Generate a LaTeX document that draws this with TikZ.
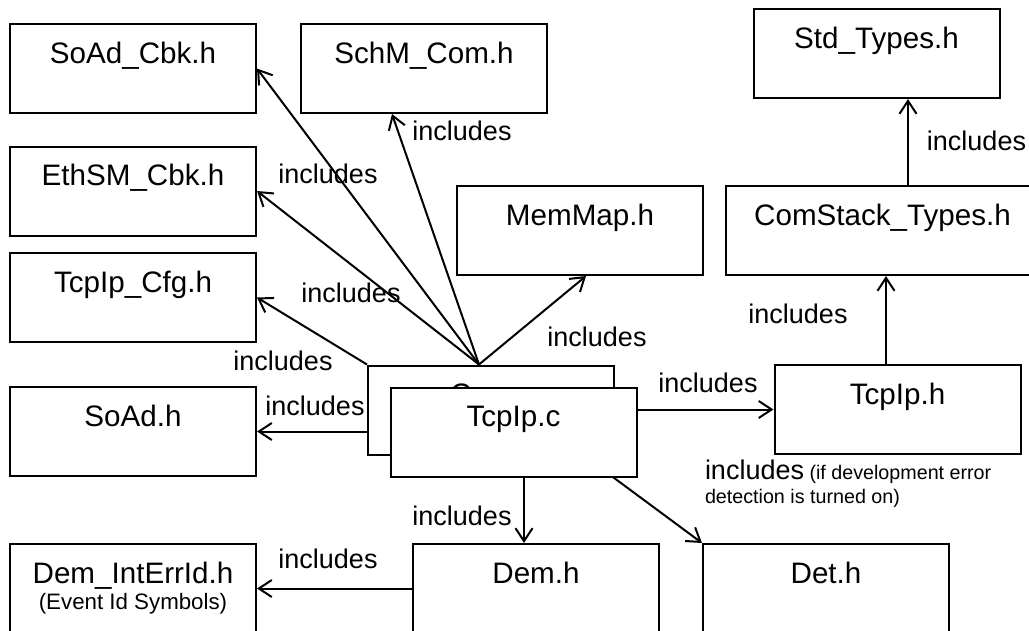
\documentclass[tikz,border=0pt]{standalone}
\usepackage{fontspec}
\setmainfont{Liberation Sans}
\usetikzlibrary{arrows.meta}

\begin{document}
\begin{tikzpicture}[-,>={Straight Barb[length=13pt,width=17pt]},x=1pt,y=-1pt,line width=2pt,
  file node/.style={draw,rectangle,inner sep=0pt,minimum width=246pt,minimum height=89pt,text height=39pt,text depth=50pt,font=\fontsize{29.6}{34}\selectfont},
  inc node/.style={font=\fontsize{27}{32}\selectfont}]
            \useasboundingbox (0,0) rectangle (1029,630);

            \node[file node] (soadcbk) at (133,68.5) {SoAd\_Cbk.h};
            \node[file node] (schm) at (424,68.5) {SchM\_Com.h};
            \node[file node] (ethsm) at (133,191) {EthSM\_Cbk.h};
            \node[file node] (cfg) at (133,297.5) {TcpIp\_Cfg.h};
            \node[file node] (soad) at (133,431.5) {SoAd.h};
            \node[file node] (memmap) at (580,230.5) {MemMap.h};
            \node[file node] (std) at (876.5,53.5) {Std\_Types.h};
            \node[file node, minimum width=313pt] (comstack) at (882.5,230.5) {ComStack\_Types.h};
            \node[file node] (tcpiph) at (897.5,409.5) {TcpIp.h};

            % stacked source files
            \node[file node] (back) at (491,410) {\makebox[82pt][l]{C}};
            \node[file node, fill=white] (tcpipc) at (513.5,432) {TcpIp.c};

            \node[file node, align=center, text height=65pt, text depth=24pt] (demint) at (133,588.5)
                {Dem\_IntErrId.h\\[-8pt]{\fontsize{22.3}{26}\selectfont (Event Id Symbols)}};
            \node[file node] (dem) at (536,588.5) {Dem.h};
            \node[file node] (det) at (826,588.5) {Det.h};

            \coordinate (fan) at ([xshift=-12pt]back.north);

            \path[->]
                (fan) edge (soadcbk.east)
                (fan) edge ([xshift=-32pt]schm.south)
                (fan) edge (ethsm.east)
                (back.north west) edge (cfg.east)
                (fan) edge ([xshift=6pt]memmap.south)
                (back.west |- soad.east) edge (soad.east)
                (tcpipc.east |- tcpiph.west) edge (tcpiph.west)
                ([xshift=-11.5pt]tcpiph.north) edge ([xshift=-11.5pt]tcpiph.north |- comstack.south)
                ([xshift=25.5pt]comstack.north) edge ([xshift=25.5pt]comstack.north |- std.south)
                ([xshift=10.5pt]tcpipc.south) edge ([xshift=10.5pt]tcpipc.south |- dem.north)
                ([xshift=-24pt]tcpipc.south east) edge (det.north west)
                (dem.west) edge (demint.east)
                ;

            \node[inc node] (inc1) at (462,131) {includes};
            \node[inc node] (inc2) at (328,174) {includes};
            \node[inc node] (inc3) at (351,292.5) {includes};
            \node[inc node] (inc4) at (283,361) {includes};
            \node[inc node] (inc5) at (597,337) {includes};
            \node[inc node] (inc6) at (315,406) {includes};
            \node[inc node] (inc7) at (708,382.5) {includes};
            \node[inc node] (inc8) at (798,314) {includes};
            \node[inc node] (inc9) at (976.5,141) {includes};
            \node[inc node] (inc10) at (462,516) {includes};
            \node[inc node] (inc11) at (328,559) {includes};
            \node[anchor=base west, inner sep=0pt, align=left, font=\fontsize{19.7}{24}\selectfont] (inc12) at (704,503)
                {{\fontsize{27}{32}\selectfont includes} (if development error\\detection is turned on)};
\end{tikzpicture}
\end{document}
